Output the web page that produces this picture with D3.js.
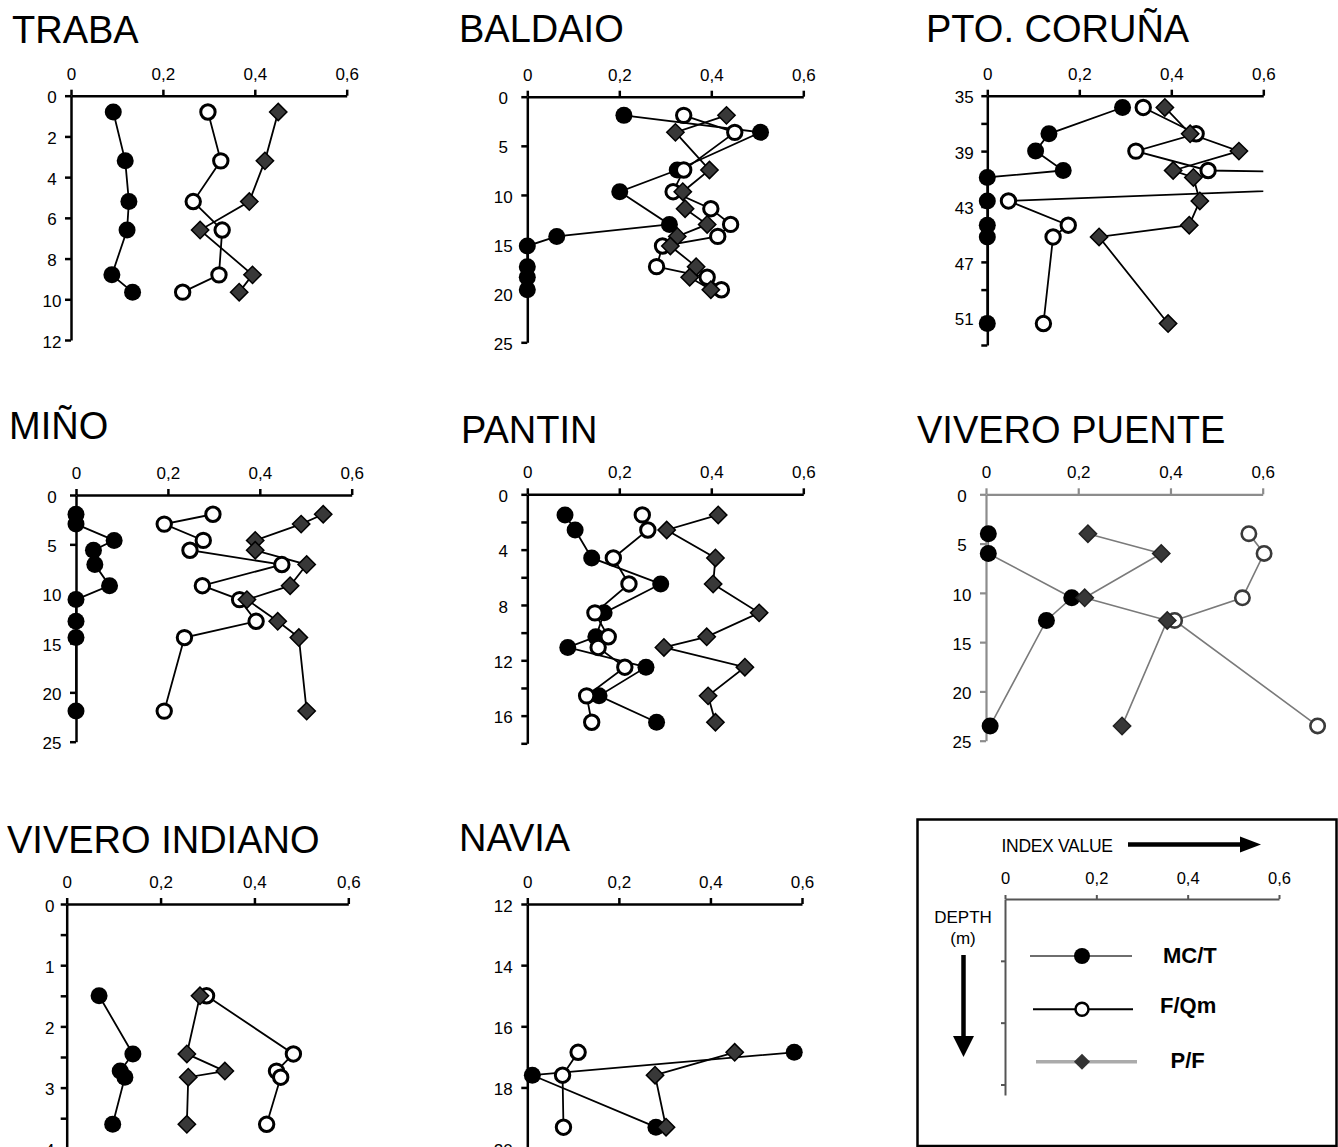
<!DOCTYPE html>
<html>
<head>
<meta charset="utf-8">
<script src="https://cdn.jsdelivr.net/npm/d3@7"></script>
<style>
  body { margin: 0; background: #fff; }
  svg { display: block; font-family: "Liberation Sans", Arial, Helvetica, sans-serif; }
</style>
</head>
<body>
<svg id="chart" width="1338" height="1147"></svg>
<script>
// ---- index axis (shared by all sites) ----
const indexTicks = [0, 0.2, 0.4, 0.6];

// ---- TRABA ----
const trabaDepth = [0.8, 3.2, 5.2, 6.6, 8.8, 9.65];
const trabaMCT   = [0.092, 0.118, 0.126, 0.122, 0.089, 0.134];
const trabaFQm   = [0.298, 0.326, 0.266, 0.329, 0.322, 0.243];
const trabaPF    = [0.451, 0.422, 0.388, 0.281, 0.395, 0.366];
const trabaTicks = [0, 2, 4, 6, 8, 10, 12];

// ---- BALDAIO ----
const baldaioDepth = [1.9, 3.63, 7.46, 9.67, 11.4, 13.0, 14.22, 15.2, 17.3, 18.38, 19.65];
const baldaioMCT   = [0.210, 0.507, 0.326, 0.201, null, 0.309, 0.064, 0, 0, 0, 0];
const baldaioFQm   = [0.340, 0.451, 0.340, 0.317, 0.399, 0.442, 0.414, 0.294, 0.281, 0.391, 0.422];
const baldaioPF    = [0.433, 0.322, 0.396, 0.338, 0.343, 0.391, 0.326, 0.311, 0.367, 0.353, 0.399];
const baldaioTicks = [0, 5, 10, 15, 20, 25];

// ---- PTO. CORUÑA ----
const corunaDepth  = [35.85, 37.75, 39.0, 40.4, 40.9, 42.6, 44.35, 45.2, 51.45];
const corunaMCT    = [0.294, 0.134, 0.105, 0.165, 0, 0, 0, 0, 0];
const corunaFQm    = [0.339, 0.454, 0.323, 0.480, 1.38, 0.046, 0.176, 0.143, 0.122];
const corunaPF     = [0.386, 0.441, 0.547, 0.404, 0.448, 0.462, 0.439, 0.243, 0.393];
const corunaTicks  = [35, 37, 39, 41, 43, 45, 47, 49, 51, 53];
const corunaLabels = [35, 39, 43, 47, 51];

// ---- MIÑO ----
const minoDepth = [1.95, 2.95, 4.6, 5.6, 7.05, 9.19, 10.6, 12.8, 14.45, 21.9];
const minoMCT   = [0, 0, 0.083, 0.038, 0.041, 0.073, 0, 0, 0, 0];
const minoFQm   = [0.298, 0.192, 0.277, 0.248, 0.448, 0.275, 0.356, 0.392, 0.236, 0.192];
const minoPF    = [0.538, 0.490, 0.390, 0.390, 0.502, 0.466, 0.372, 0.439, 0.485, 0.502];
const minoTicks = [0, 5, 10, 15, 20, 25];

// ---- PANTIN ----
const pantinDepth  = [1.49, 2.58, 4.6, 6.48, 8.57, 10.3, 11.07, 12.5, 14.57, 16.48];
const pantinMCT    = [0.082, 0.104, 0.140, 0.290, 0.167, 0.149, 0.088, 0.258, 0.156, 0.281];
const pantinFQm    = [0.250, 0.262, 0.187, 0.221, 0.147, 0.176, 0.154, 0.212, 0.129, 0.140];
const pantinPF     = [0.415, 0.303, 0.409, 0.404, 0.504, 0.390, 0.297, 0.473, 0.393, 0.409];
const pantinTicks  = [0, 2, 4, 6, 8, 10, 12, 14, 16, 18];
const pantinLabels = [0, 4, 8, 12, 16];

// ---- VIVERO PUENTE ----
const puenteDepth = [4.0, 6.0, 10.5, 12.8, 23.5];
const puenteMCT   = [0.005, 0.005, 0.186, 0.131, 0.009];
const puenteFQm   = [0.570, 0.603, 0.556, 0.409, 0.719];
const puentePF    = [0.221, 0.380, 0.214, 0.393, 0.295];
const puenteTicks = [0, 5, 10, 15, 20, 25];

// ---- VIVERO INDIANO ----
const indianoDepth  = [1.5, 2.45, 2.73, 2.83, 3.6];
const indianoMCT    = [0.069, 0.141, 0.114, 0.124, 0.098];
const indianoFQm    = [0.298, 0.483, 0.447, 0.456, 0.426];
const indianoPF     = [0.284, 0.256, 0.337, 0.259, 0.256];
const indianoTicks  = [0, 0.5, 1, 1.5, 2, 2.5, 3, 3.5, 4];
const indianoLabels = [0, 1, 2, 3, 4];

// ---- NAVIA ----
const naviaDepth = [16.85, 17.6, 19.3];
const naviaMCT   = [0.583, 0.011, 0.281];
const naviaFQm   = [0.111, 0.077, 0.079];
const naviaPF    = [0.453, 0.279, 0.303];
const naviaTicks = [12, 14, 16, 18, 20];

// ---- legend ----
const legendNames = ["MC/T", "F/Qm", "P/F"];

// panel layout: axis origin / extent in page pixels, title position
const panels = [
  { name: "TRABA", depth: trabaDepth, mct: trabaMCT, fqm: trabaFQm, pf: trabaPF,
    yDomain: [0, 12], ticks: trabaTicks, labels: trabaTicks,
    x0: 71, x1: 346.7, y0: 95.7, y1: 340, tx: 12, ty: 43, labOff: -19 },
  { name: "BALDAIO", depth: baldaioDepth, mct: baldaioMCT, fqm: baldaioFQm, pf: baldaioPF,
    yDomain: [0, 25], ticks: baldaioTicks, labels: baldaioTicks,
    x0: 527.3, x1: 803.3, y0: 96.7, y1: 342.3, tx: 459, ty: 41.5, labOff: -24 },
  { name: "PTO. CORUÑA", depth: corunaDepth, mct: corunaMCT, fqm: corunaFQm, pf: corunaPF,
    yDomain: [35, 53], ticks: corunaTicks, labels: corunaLabels,
    x0: 987.3, x1: 1263.3, y0: 95.7, y1: 345, tx: 926, ty: 41.7, labOff: -23, clip: true },
  { name: "MIÑO", depth: minoDepth, mct: minoMCT, fqm: minoFQm, pf: minoPF,
    yDomain: [0, 25], ticks: minoTicks, labels: minoTicks,
    x0: 76, x1: 351.7, y0: 495, y1: 741.7, tx: 9, ty: 438.5, labOff: -24 },
  { name: "PANTIN", depth: pantinDepth, mct: pantinMCT, fqm: pantinFQm, pf: pantinPF,
    yDomain: [0, 18], ticks: pantinTicks, labels: pantinLabels,
    x0: 527.3, x1: 803.3, y0: 494.3, y1: 743.3, tx: 461, ty: 442.7, labOff: -24 },
  { name: "VIVERO PUENTE", depth: puenteDepth, mct: puenteMCT, fqm: puenteFQm, pf: puentePF,
    yDomain: [0, 25], ticks: puenteTicks, labels: puenteTicks,
    x0: 986, x1: 1262.7, y0: 494.3, y1: 740.7, tx: 917, ty: 443.3, labOff: -24, gray: true },
  { name: "VIVERO INDIANO", depth: indianoDepth, mct: indianoMCT, fqm: indianoFQm, pf: indianoPF,
    yDomain: [0, 4], ticks: indianoTicks, labels: indianoLabels,
    x0: 66.7, x1: 348.3, y0: 904, y1: 1148.8, tx: 7, ty: 852.7, labOff: -17 },
  { name: "NAVIA", depth: naviaDepth, mct: naviaMCT, fqm: naviaFQm, pf: naviaPF,
    yDomain: [12, 20], ticks: naviaTicks, labels: naviaTicks,
    x0: 527.3, x1: 802, y0: 904, y1: 1148.6, tx: 459, ty: 850.7, labOff: -24 }
];

const svg = d3.select("#chart");
const fmtIndex = d => d === 0 ? "0" : d3.format(".1f")(d).replace(".", ",");
const diamondPath = d3.symbol().type(d3.symbolSquare).size(150)();

function drawMarkers(g, pts, kind, x, y, gray) {
  const sel = g.selectAll(null).data(pts).enter();
  if (kind === "mct") {
    sel.append("circle")
      .attr("cx", p => x(p.v)).attr("cy", p => y(p.d)).attr("r", 8.5)
      .attr("fill", "#000");
  } else if (kind === "fqm") {
    sel.append("circle")
      .attr("cx", p => x(p.v)).attr("cy", p => y(p.d)).attr("r", 7.2)
      .attr("fill", "#fff")
      .attr("stroke", gray ? "#3a3a3a" : "#000")
      .attr("stroke-width", gray ? 2.6 : 3);
  } else {
    sel.append("path")
      .attr("d", diamondPath)
      .attr("transform", p => `translate(${x(p.v)},${y(p.d)}) rotate(45)`)
      .attr("fill", "#383838")
      .attr("stroke", gray ? "#222" : "#000")
      .attr("stroke-width", 1.5);
  }
}

panels.forEach((p, idx) => {
  const g = svg.append("g");
  const x = d3.scaleLinear().domain([0, 0.6]).range([p.x0, p.x1]);
  const y = d3.scaleLinear().domain(p.yDomain).range([p.y0, p.y1]);
  const axisColor = p.gray ? "#8c8c8c" : "#000";

  g.append("text")
    .attr("x", p.tx).attr("y", p.ty)
    .attr("font-size", 38).attr("fill", "#000")
    .text(p.name);

  // index axis along the top
  const xa = g.append("g")
    .attr("transform", `translate(0,${p.y0})`)
    .call(d3.axisTop(x).tickValues(indexTicks).tickFormat(fmtIndex)
      .tickSize(6).tickSizeOuter(0).tickPadding(10));
  xa.attr("font-family", null).attr("font-size", 17).attr("color", axisColor);
  xa.selectAll("text").attr("fill", "#000");

  // depth axis
  const ya = g.append("g")
    .attr("transform", `translate(${p.x0},0)`)
    .call(d3.axisLeft(y).tickValues(p.ticks)
      .tickFormat(d => p.labels.includes(d) ? String(d) : "")
      .tickSize(6).tickSizeOuter(0));
  ya.attr("font-family", null).attr("font-size", 17).attr("color", axisColor)
    .attr("text-anchor", "middle");
  ya.selectAll("text").attr("x", p.labOff).attr("dy", "0.42em").attr("fill", "#000");

  [xa, ya].forEach(a => {
    a.selectAll(".domain, .tick line").attr("stroke-width", p.gray ? 2.2 : 2.5);
  });

  // series
  const body = g.append("g");
  if (p.clip) {
    const id = "clip" + idx;
    g.append("clipPath").attr("id", id)
      .append("rect")
      .attr("x", p.x0 - 20).attr("y", p.y0 - 20)
      .attr("width", p.x1 - p.x0 + 20).attr("height", p.y1 - p.y0 + 40);
    body.attr("clip-path", `url(#${id})`);
  }
  const kinds = ["mct", "fqm", "pf"];
  const ptsByKind = kinds.map(k =>
    p.depth.map((d, i) => ({ d, v: p[k][i] })).filter(q => q.v != null));
  const line = d3.line().x(q => x(q.v)).y(q => y(q.d));
  ptsByKind.forEach(pts => {
    body.append("path")
      .attr("d", line(pts))
      .attr("fill", "none")
      .attr("stroke", p.gray ? "#7a7a7a" : "#000")
      .attr("stroke-width", p.gray ? 1.6 : 1.8);
  });
  kinds.forEach((k, i) => drawMarkers(body, ptsByKind[i], k, x, y, p.gray));
});

// ---- legend panel ----
const lg = svg.append("g");
lg.append("rect")
  .attr("x", 917.5).attr("y", 819.5).attr("width", 419).attr("height", 326.5)
  .attr("fill", "none").attr("stroke", "#000").attr("stroke-width", 2.5);

lg.append("text").attr("x", 1001.5).attr("y", 851.7)
  .attr("font-size", 17.5).attr("letter-spacing", -0.3).text("INDEX VALUE");
lg.append("line").attr("x1", 1128).attr("x2", 1244).attr("y1", 844.5).attr("y2", 844.5)
  .attr("stroke", "#000").attr("stroke-width", 4.5);
lg.append("path").attr("d", "M1240,836.5 L1261,844.5 L1240,852.5 Z").attr("fill", "#000");

const lx = d3.scaleLinear().domain([0, 0.6]).range([1005, 1279]);
const lxa = lg.append("g").attr("transform", "translate(0,899)")
  .call(d3.axisTop(lx).tickValues(indexTicks).tickFormat(fmtIndex)
    .tickSize(4).tickSizeOuter(0).tickPadding(11));
lxa.attr("font-family", null).attr("font-size", 16.5).attr("color", "#555");
lxa.selectAll("text").attr("fill", "#000");
lxa.selectAll(".domain, .tick line").attr("stroke-width", 2);

const ly = d3.scaleLinear().domain([0, 3.17]).range([899, 1095]);
const lya = lg.append("g").attr("transform", "translate(1005,0)")
  .call(d3.axisLeft(ly).tickValues([1, 2, 3]).tickFormat("").tickSize(4).tickSizeOuter(0));
lya.attr("color", "#555");
lya.selectAll(".domain, .tick line").attr("stroke-width", 2);

lg.append("text").attr("x", 963).attr("y", 923.3).attr("text-anchor", "middle")
  .attr("font-size", 17).text("DEPTH");
lg.append("text").attr("x", 963).attr("y", 944).attr("text-anchor", "middle")
  .attr("font-size", 17).text("(m)");
lg.append("line").attr("x1", 963.5).attr("x2", 963.5).attr("y1", 955).attr("y2", 1040)
  .attr("stroke", "#000").attr("stroke-width", 4.5);
lg.append("path").attr("d", "M953,1036 L974,1036 L963.5,1057 Z").attr("fill", "#000");

const legendRows = [
  { y: 956, x1: 1030, x2: 1132, stroke: "#6e6e6e", sw: 2, kind: "mct", tx: 1163, ty: 963.3 },
  { y: 1009.3, x1: 1033, x2: 1133, stroke: "#000", sw: 2, kind: "fqm", tx: 1160, ty: 1013.3 },
  { y: 1061.7, x1: 1036, x2: 1137, stroke: "#ababab", sw: 3.5, kind: "pf", tx: 1170.5, ty: 1068.3 }
];
legendRows.forEach((r, i) => {
  lg.append("line").attr("x1", r.x1).attr("x2", r.x2).attr("y1", r.y).attr("y2", r.y)
    .attr("stroke", r.stroke).attr("stroke-width", r.sw);
  if (r.kind === "mct") {
    lg.append("circle").attr("cx", 1082).attr("cy", r.y).attr("r", 8).attr("fill", "#000");
  } else if (r.kind === "fqm") {
    lg.append("circle").attr("cx", 1082).attr("cy", r.y).attr("r", 6.5)
      .attr("fill", "#fff").attr("stroke", "#000").attr("stroke-width", 2.5);
  } else {
    lg.append("path").attr("d", d3.symbol().type(d3.symbolSquare).size(130)())
      .attr("transform", `translate(1082,${r.y}) rotate(45)`).attr("fill", "#333");
  }
  lg.append("text").attr("x", r.tx).attr("y", r.ty)
    .attr("font-size", 22).attr("font-weight", "bold").text(legendNames[i]);
});
</script>
</body>
</html>
